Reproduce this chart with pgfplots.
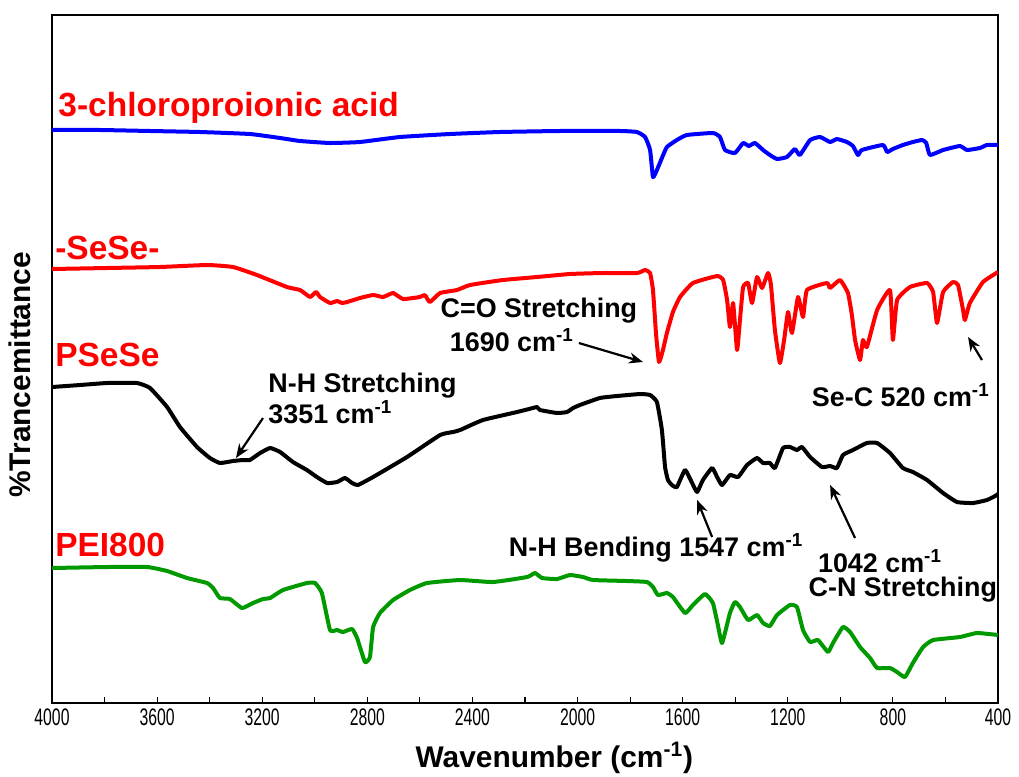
\documentclass[border=0pt]{standalone}
\usepackage{pgfplots}
\pgfplotsset{compat=1.18}
\usepackage{fontspec}
\setmainfont{Liberation Sans}
\newfontfamily\narrowsans{Liberation Sans}[FakeStretch=0.66]
\usetikzlibrary{arrows.meta}

\definecolor{pgreen}{RGB}{0,153,0}

\begin{document}
\begin{tikzpicture}
\begin{axis}[
  name=ax, at={(0,0)}, anchor=south west,
  scale only axis, width=473bp, height=344bp,
  xmin=400, xmax=4000, x dir=reverse,
  ymin=15, ymax=703, y dir=reverse,
  xtick={400,800,...,4000},
  minor xtick={600,1000,...,3800},
  xtick pos=left, tick align=inside,
  major tick length=3bp, minor tick length=3bp,
  ytick=\empty,
  axis line style={line width=0.9bp},
  every tick/.style={black, line width=0.6bp},
  /pgf/number format/assume math mode=true,
  /pgf/number format/1000 sep={},
  xticklabel style={font=\narrowsans\fontsize{12}{14}\selectfont, yshift=0.5bp},
  xlabel={Wavenumber (cm\textsuperscript{-1})},
  xlabel style={at={(axis description cs:0.531,0)}, anchor=center, yshift=-27.5bp,
                font=\bfseries\fontsize{15}{18}\selectfont},
  ylabel={\%Trancemittance},
  ylabel style={at={(axis description cs:-0.034,0.477)}, anchor=center,
                font=\bfseries\fontsize{15}{18}\selectfont},
  every axis plot/.append style={line width=2bp, line join=round, smooth, tension=0.25},
]

% 3-chloropropionic acid
\addplot[blue] coordinates {
(4000,130)(3817,130)(3627,131)(3437,132)(3247,134)(3132,138)(3056,141)(2942,143)
(2828,142)(2676,137)(2485,134)(2295,132)(2067,131)(1838,131)(1774,132)(1743,137)
(1724,150)(1713,177)(1698,170)(1679,158)(1660,147)(1622,140)(1584,135)(1485,133)
(1458,137)(1439,150)(1401,153)(1370,143)(1348,146)(1325,143)(1294,150)(1268,155)
(1241,159)(1203,157)(1173,149)(1154,155)(1115,140)(1077,137)(1039,142)(1013,139)
(975,142)(952,146)(933,155)(918,150)(838,145)(822,152)(800,149)(762,145)(724,142)
(689,140)(673,143)(659,155)(609,150)(545,146)(518,150)(469,148)(442,145)(400,145)
};

% -SeSe-
\addplot[red] coordinates {
(4000,269)(3791,268)(3589,267)(3410,265)(3311,267)(3220,275)(3106,287)(3056,290)
(3018,297)(2995,292)(2980,297)(2942,303)(2915,301)(2896,303)(2877,302)(2828,298)
(2778,295)(2740,297)(2702,293)(2664,299)(2600,297)(2581,295)(2562,302)(2523,293)
(2459,290)(2409,285)(2284,280)(2154,277)(2029,274)(1903,273)(1774,273)(1743,270)
(1724,273)(1713,290)(1701,335)(1690,362)(1675,350)(1660,333)(1637,312)(1610,297)
(1561,283)(1469,276)(1446,280)(1431,300)(1420,327)(1408,303)(1393,350)(1382,320)
(1370,287)(1351,283)(1336,303)(1317,277)(1298,288)(1275,273)(1264,285)(1249,330)
(1230,363)(1214,340)(1199,312)(1184,333)(1161,297)(1142,317)(1127,290)(1051,283)
(1039,288)(1001,280)(971,293)(956,315)(944,340)(925,360)(914,340)(899,347)
(860,310)(811,290)(800,340)(784,300)(735,287)(670,283)(647,292)(632,323)
(609,292)(571,282)(552,285)(533,310)(526,320)(507,303)(457,282)(400,272)
};

% PSeSe
\addplot[black] coordinates {
(4000,387)(3893,385)(3791,383)(3677,383)(3627,388)(3562,407)(3513,427)(3448,447)
(3399,458)(3361,463)(3311,461)(3273,460)(3247,460)(3208,453)(3170,448)(3132,452)
(3083,462)(3030,470)(2992,477)(2953,483)(2915,482)(2885,478)(2858,483)(2836,485)
(2778,477)(2649,457)(2523,435)(2474,432)(2447,430)(2360,420)(2230,412)(2170,408)
(2154,407)(2143,410)(2078,413)(2040,412)(2017,408)(1991,405)(1915,398)(1850,396)
(1762,394)(1724,395)(1698,402)(1679,430)(1667,467)(1656,480)(1641,485)(1622,487)
(1591,470)(1564,483)(1545,492)(1523,480)(1488,468)(1469,477)(1450,485)(1420,475)
(1389,477)(1355,465)(1317,458)(1294,463)(1268,463)(1249,468)(1218,448)(1192,447)
(1165,450)(1146,447)(1115,457)(1070,467)(1039,466)(1013,468)(990,455)(952,450)
(899,443)(860,443)(811,453)(762,468)(724,472)(670,480)(609,493)(556,502)
(495,503)(442,500)(404,495)(400,493)
};

% PEI800
\addplot[pgreen] coordinates {
(4000,568)(3791,567)(3638,567)(3562,571)(3486,578)(3410,583)(3387,588)(3361,598)
(3323,599)(3277,608)(3235,603)(3197,599)(3170,598)(3121,590)(3030,583)(2999,583)
(2973,593)(2942,630)(2915,630)(2893,632)(2858,629)(2839,638)(2809,662)(2790,657)
(2778,627)(2752,613)(2702,600)(2638,590)(2573,583)(2447,580)(2322,582)(2192,577)
(2162,573)(2135,578)(2078,579)(2029,575)(1979,577)(1941,580)(1812,581)(1736,582)
(1713,587)(1694,595)(1660,593)(1637,597)(1591,613)(1561,605)(1515,594)(1485,603)
(1466,625)(1450,643)(1420,613)(1401,602)(1382,607)(1351,620)(1317,615)(1294,623)
(1268,626)(1241,615)(1192,605)(1165,607)(1142,630)(1115,642)(1085,640)(1047,652)
(1028,643)(990,627)(963,632)(925,647)(887,658)(860,668)(811,668)(784,672)
(754,677)(724,663)(685,647)(647,640)(545,637)(480,633)(400,635)
};

% sample names
\begin{scope}[every node/.style={anchor=west, text=red, inner sep=0pt,
    font=\bfseries\fontsize{16.8}{19}\selectfont}]
\node at (axis cs:3977,108) {3-chloroproionic acid};
\node at (axis cs:3989,248) {-SeSe-};
\node at (axis cs:3989,355) {PSeSe};
\node at (axis cs:3989,545) {PEI800};
\end{scope}

% band assignments
\begin{scope}[every node/.style={inner sep=0pt, font=\bfseries\fontsize{13.5}{16}\selectfont},
    ann/.style={-{Stealth[length=7bp,width=5.5bp]}, line width=1.1bp, black}]
\node[anchor=center] at (axis cs:2147,311) {C=O Stretching};
\node[anchor=center] at (axis cs:2250,340) {1690 cm\textsuperscript{-1}};
\draw[ann] (axis cs:1995,343) -- (axis cs:1751,362);

\node[anchor=west] at (axis cs:3178,386) {N-H Stretching};
\node[anchor=west] at (axis cs:3178,412) {3351 cm\textsuperscript{-1}};
\draw[ann] (axis cs:3197,418) -- (axis cs:3300,458);

\node[anchor=east] at (axis cs:430,395) {Se-C 520 cm\textsuperscript{-1}};
\draw[ann] (axis cs:461,360) -- (axis cs:514,337);

\node[anchor=center] at (axis cs:1701,548) {N-H Bending 1547 cm\textsuperscript{-1}};
\draw[ann] (axis cs:1488,537) -- (axis cs:1545,500);

\node[anchor=center] at (axis cs:849,561) {1042 cm\textsuperscript{-1}};
\node[anchor=center] at (axis cs:762,590) {C-N Stretching};
\draw[ann] (axis cs:944,538) -- (axis cs:1039,485);
\end{scope}
\end{axis}
\pgfresetboundingbox
\path[use as bounding box] ([shift={(-26bp,-36.5bp)}]ax.south west)
  rectangle ([shift={(10.5bp,7.5bp)}]ax.north east);
\end{tikzpicture}
\end{document}
